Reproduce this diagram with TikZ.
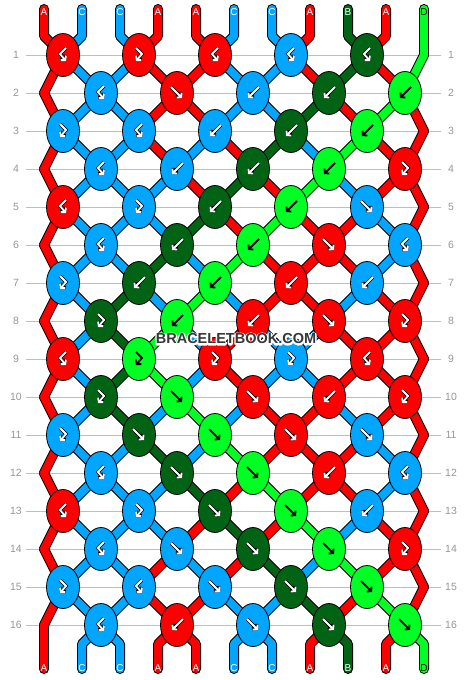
\documentclass[tikz,border=0pt]{standalone}
\usepackage{fontspec}
\setsansfont{Liberation Sans}
\usetikzlibrary{arrows.meta,shapes.geometric}

\definecolor{colA}{RGB}{255,0,0}
\definecolor{colB}{RGB}{0,100,20}
\definecolor{colC}{RGB}{0,166,255}
\definecolor{colD}{RGB}{0,255,34}
\colorlet{txtA}{white}
\colorlet{txtB}{white}
\colorlet{txtC}{white}
\colorlet{txtD}{black}
\colorlet{rimA}{black}
\colorlet{rimB}{black}
\colorlet{rimC}{black}
\colorlet{rimD}{colD}
\definecolor{rowgray}{RGB}{190,190,190}
\definecolor{numgray}{RGB}{150,150,150}
\definecolor{markgray}{RGB}{55,55,55}

% knot arrows, relative to the knot centre (y grows downwards)
\def\glyphf{(-6,-6) -- (5,5)}
\def\glyphb{(6,-6) -- (-5,5)}
\def\glyphfb{(3,-7) -- (-3,-1) -- (3,6)}
\def\glyphbf{(-3,-7) -- (3,-1) -- (-3,6)}

% white rim under the watermark letters
\newcommand\rimtext[1]{\rlap{\special{pdf:literal direct 1 Tr 3 w 1 1 1 RG 1 j}#1\special{pdf:literal direct 0 Tr}}#1}

\pgfdeclarelayer{grid}
\pgfdeclarelayer{strandback}
\pgfdeclarelayer{strandfront}
\pgfsetlayers{grid,strandback,strandfront,main}

\begin{document}
\begin{tikzpicture}[x=1pt,y=-1pt,font=\sffamily]
	\tikzstyle{knot} = [draw, ellipse, line width=0.8pt, minimum width=33pt, minimum height=43pt, inner sep=0pt]
	\tikzstyle{strandedge} = [black, line width=10pt, line cap=round, line join=round]
	\tikzstyle{strand} = [line width=8pt, line cap=round, line join=round]
	\tikzstyle{glyphedge} = [line width=3.2pt, -{Straight Barb[length=3pt,width=7pt]}]
	\tikzstyle{glyphline} = [line width=1.8pt, -{Straight Barb[length=3pt,width=7pt]}]
	\tikzstyle{endlabel} = [inner sep=0pt, font=\sffamily\fontsize{10}{10}\selectfont]
	\tikzstyle{rownum} = [inner sep=0pt, minimum width=20pt, text=numgray, font=\sffamily\fontsize{10.5}{11}\selectfont]
	\tikzstyle{rowline} = [draw=rowgray, line width=0.8pt]
	\tikzstyle{watermark} = [inner sep=0pt, text=markgray, font=\sffamily\bfseries\fontsize{14.5}{15}\selectfont]

	\useasboundingbox (0,0) rectangle (468,680);

	% knots, row by row: type/string
	\foreach \row/\knots in {
		1/{fb/A,bf/A,fb/A,fb/C,fb/B},
		2/{fb/C,f/A,b/C,b/B,b/D},
		3/{bf/C,fb/C,b/C,b/B,b/D},
		4/{fb/C,b/C,b/B,b/D,bf/A},
		5/{fb/A,bf/C,b/B,b/D,f/C},
		6/{fb/C,b/B,b/D,f/A,fb/C},
		7/{bf/C,b/B,b/D,b/A,b/C},
		8/{bf/B,b/D,b/A,f/A,bf/A},
		9/{fb/A,bf/D,bf/A,bf/C,fb/A},
		10/{bf/B,f/D,f/A,b/A,bf/A},
		11/{bf/C,f/B,f/D,f/A,f/C},
		12/{fb/C,f/B,f/D,b/A,fb/C},
		13/{fb/A,bf/C,f/B,f/D,b/C},
		14/{fb/C,f/C,f/B,f/D,bf/A},
		15/{bf/C,fb/C,f/C,f/B,f/D},
		16/{fb/C,b/A,f/C,f/B,f/D}} {
		\pgfmathsetmacro\yy{55+(\row-1)*38}
		\pgfmathtruncatemacro\ev{1-mod(\row,2)}
		\foreach \ktype/\kcol [count=\knum] in \knots {
			\pgfmathsetmacro\xx{44+(2*\knum-1.5+\ev)*38}
			\node[knot, fill=col\kcol] (kn-\row-\knum) at (\xx,\yy) {};
			\expandafter\let\expandafter\gp\csname glyph\ktype\endcsname
			\draw[glyphedge, draw=rim\kcol, shift={(\xx,\yy)}] \gp;
			\draw[glyphline, draw=txt\kcol, shift={(\xx,\yy)}] \gp;
		}
		% free string: left edge in even rows, right edge in odd rows
		\pgfmathsetmacro\xe{\ev==1 ? 44 : 424}
		\pgfmathtruncatemacro\ke{\ev==1 ? 0 : 6}
		\coordinate (kn-\row-\ke) at (\xe,\yy);

		\node[rownum] (rl-\row) at (16,\yy) {\row};
		\node[rownum] (rr-\row) at (451,\yy) {\row};
		\begin{pgfonlayer}{grid}
			\draw[rowline] (rl-\row) -- (rr-\row);
		\end{pgfonlayer}
	}

	% strings between row and row+1
	\foreach \row/\state in {
		1/{A,C,C,A,A,C,C,A,B,A,D},
		2/{A,C,C,A,A,C,C,B,A,D,A},
		3/{A,C,C,A,C,A,B,C,D,A,A},
		4/{A,C,C,C,A,B,A,D,C,A,A},
		5/{A,C,C,C,B,A,D,A,A,C,A},
		6/{A,C,C,B,C,D,A,A,A,C,A},
		7/{A,C,B,C,D,C,A,A,C,A,A},
		8/{A,C,B,D,C,A,C,C,A,A,A},
		9/{A,C,B,D,C,A,C,C,A,A,A},
		10/{A,C,B,C,D,C,A,A,C,A,A},
		11/{A,C,C,B,C,D,A,A,A,C,A},
		12/{A,C,C,C,B,A,D,A,A,C,A},
		13/{A,C,C,C,A,B,A,D,C,A,A},
		14/{A,C,C,A,C,A,B,C,D,A,A},
		15/{A,C,C,A,A,C,C,B,A,D,A}} {
		\pgfmathtruncatemacro\nxt{\row+1}
		\pgfmathtruncatemacro\ev{1-mod(\row,2)}
		\foreach \scol [count=\pos] in \state {
			\pgfmathtruncatemacro\ka{floor((\pos+1-\ev)/2)}
			\pgfmathtruncatemacro\kb{floor((\pos+\ev)/2)}
			\begin{pgfonlayer}{strandback}
				\draw[strandedge] (kn-\row-\ka.center) -- (kn-\nxt-\kb.center);
			\end{pgfonlayer}
			\begin{pgfonlayer}{strandfront}
				\draw[strand, draw=col\scol] (kn-\row-\ka.center) -- (kn-\nxt-\kb.center);
			\end{pgfonlayer}
		}
	}

	% loose ends, top and bottom
	\foreach \scol [count=\pos] in {A,C,C,A,A,C,C,A,B,A,D} {
		\pgfmathsetmacro\xx{44+(\pos-1)*38}
		\pgfmathtruncatemacro\ka{floor((\pos+1)/2)}
		\pgfmathtruncatemacro\kb{floor(\pos/2)}
		\coordinate (top-\pos) at (\xx,9);
		\coordinate (tb-\pos) at (\xx,36);
		\coordinate (bb-\pos) at (\xx,644);
		\coordinate (bot-\pos) at (\xx,669);
		\begin{pgfonlayer}{strandback}
			\draw[strandedge] (top-\pos) -- (tb-\pos) -- (kn-1-\ka.center);
			\draw[strandedge] (kn-16-\kb.center) -- (bb-\pos) -- (bot-\pos);
		\end{pgfonlayer}
		\begin{pgfonlayer}{strandfront}
			\draw[strand, draw=col\scol] (top-\pos) -- (tb-\pos) -- (kn-1-\ka.center);
			\draw[strand, draw=col\scol] (kn-16-\kb.center) -- (bb-\pos) -- (bot-\pos);
		\end{pgfonlayer}
		\node[endlabel, text=txt\scol] (tl-\pos) at (\xx,12.5) {\scol};
		\node[endlabel, text=txt\scol] (bl-\pos) at (\xx,668) {\scol};
	}

	% watermark
	\node[watermark] (wm) at (236,339) {\rimtext{BRACELETBOOK.COM}};
\end{tikzpicture}
\end{document}
